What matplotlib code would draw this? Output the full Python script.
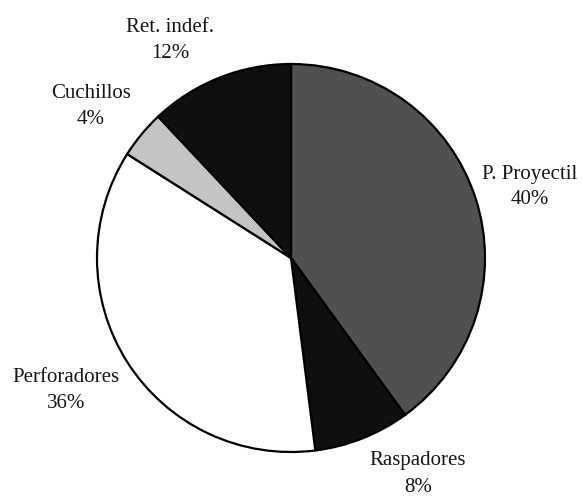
import matplotlib.pyplot as plt

# data (clockwise from 12 o'clock)
categorias = ['P. Proyectil', 'Raspadores', 'Perforadores', 'Cuchillos', 'Ret. indef.']
porcentajes = [40, 8, 36, 4, 12]
colores = ['#505050', '#0f0f0f', '#ffffff', '#c4c4c4', '#0f0f0f']

# label centres in pixels (x, y from top)
pos_etiquetas = [(530, 187), (418, 474), (66, 390), (91, 107), (170, 40)]

W, H = 582, 497
fig = plt.figure(figsize=(W / 100, H / 100), dpi=100)
ax = fig.add_axes([0, 0, 1, 1])

ax.pie(porcentajes, colors=colores, startangle=90, counterclock=False,
       center=(291, H - 258), radius=194,
       wedgeprops=dict(edgecolor='black', linewidth=1.6))

ax.set_xlim(0, W)
ax.set_ylim(0, H)
ax.set_aspect('equal')
ax.axis('off')

for nombre, p, (x, y) in zip(categorias, porcentajes, pos_etiquetas):
    ax.text(x, H - y, f'{nombre}\n{p}%', ha='center', va='center',
            fontsize=15, family='Liberation Serif', linespacing=1.5,
            color='#151515')

fig.savefig('out.png', dpi=100)
